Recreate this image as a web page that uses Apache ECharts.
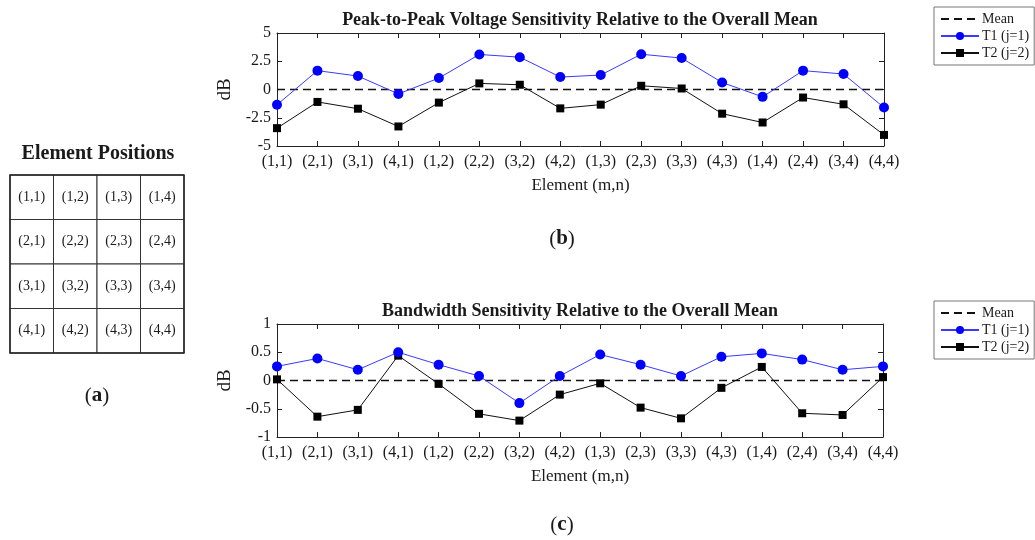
<!DOCTYPE html>
<html>
<head>
<meta charset="utf-8">
<script src="https://cdn.jsdelivr.net/npm/echarts@6/dist/echarts.min.js"></script>
<style>
  html, body { margin: 0; padding: 0; background: #fff; }
  #chart { width: 1035px; height: 540px; }
</style>
</head>
<body>
<div id="chart"></div>
<script>
// Element order along the horizontal axis (m,n)
const categories = ['(1,1)','(2,1)','(3,1)','(4,1)','(1,2)','(2,2)','(3,2)','(4,2)',
                    '(1,3)','(2,3)','(3,3)','(4,3)','(1,4)','(2,4)','(3,4)','(4,4)'];

// Peak-to-peak voltage sensitivity (dB)
const vppT1 = [-1.35, 1.67, 1.19, -0.39, 1.01, 3.10, 2.86, 1.10, 1.28, 3.12, 2.78, 0.62, -0.65, 1.67, 1.37, -1.60];
const vppT2 = [-3.42, -1.10, -1.70, -3.27, -1.16, 0.54, 0.42, -1.67, -1.34, 0.33, 0.09, -2.14, -2.92, -0.71, -1.31, -4.02];

// Bandwidth sensitivity (dB)
const bwT1 = [0.25, 0.39, 0.19, 0.50, 0.28, 0.08, -0.40, 0.08, 0.46, 0.28, 0.08, 0.42, 0.48, 0.37, 0.19, 0.25];
const bwT2 = [0.02, -0.64, -0.52, 0.44, -0.06, -0.59, -0.71, -0.25, -0.05, -0.48, -0.67, -0.13, 0.24, -0.58, -0.61, 0.06];

// Overall mean reference (0 dB)
const meanLine = [0, 0, 0, 0, 0, 0, 0, 0, 0, 0, 0, 0, 0, 0, 0, 0];

// Y tick settings
const vppTicks = { min: -5, max: 5, interval: 2.5 };
const bwTicks = { min: -1, max: 1, interval: 0.5 };

// Element position map: rows m, columns n
const tableRows = ['1', '2', '3', '4'];
const tableCols = ['1', '2', '3', '4'];

const FONT = "'Liberation Serif', 'Times New Roman', serif";
const TXT = '#1a1a1a';

const cells = [];
tableRows.forEach((m, ri) => {
  tableCols.forEach((n, ci) => {
    cells.push({ value: [ci, ri], name: '(' + m + ',' + n + ')' });
  });
});

function xAxesFor(gi) {
  return [
    {
      gridIndex: gi, type: 'category', data: categories, boundaryGap: false,
      axisLine: { onZero: false, lineStyle: { color: '#222', width: 1 } },
      axisTick: { inside: true, length: 5, interval: 0, lineStyle: { color: '#222' } },
      axisLabel: { interval: 0, margin: 8, fontFamily: FONT, fontSize: 16, color: TXT },
      name: 'Element (m,n)', nameLocation: 'middle', nameGap: 31,
      nameTextStyle: { fontFamily: FONT, fontSize: 17, color: TXT },
      splitLine: { show: false }
    },
    {
      gridIndex: gi, type: 'category', data: categories, boundaryGap: false, position: 'top',
      axisLine: { onZero: false, lineStyle: { color: '#222', width: 1 } },
      axisTick: { inside: true, length: 5, interval: 0, lineStyle: { color: '#222' } },
      axisLabel: { show: false }, splitLine: { show: false }
    }
  ];
}

function yAxesFor(gi, t) {
  return [
    {
      gridIndex: gi, type: 'value', min: t.min, max: t.max, interval: t.interval,
      axisLine: { show: true, onZero: false, lineStyle: { color: '#222', width: 1 } },
      axisTick: { show: true, inside: true, length: 5, lineStyle: { color: '#222' } },
      axisLabel: { margin: 6, fontFamily: FONT, fontSize: 16, color: TXT },
      name: 'dB', nameLocation: 'middle', nameGap: 32,
      nameTextStyle: { fontFamily: FONT, fontSize: 19, color: TXT },
      splitLine: { show: false }
    },
    {
      gridIndex: gi, type: 'value', min: t.min, max: t.max, interval: t.interval, position: 'right',
      axisLine: { show: true, onZero: false, lineStyle: { color: '#222', width: 1 } },
      axisTick: { show: true, inside: true, length: 5, lineStyle: { color: '#222' } },
      axisLabel: { show: false }, splitLine: { show: false }
    }
  ];
}

function seriesFor(xi, yi, t1, t2) {
  return [
    {
      name: 'Mean', type: 'line', xAxisIndex: xi, yAxisIndex: yi, data: meanLine,
      symbol: 'none', lineStyle: { color: '#111', width: 1.3, type: [8, 5] },
      itemStyle: { color: '#111' }, silent: true, z: 1
    },
    {
      name: 'T1 (j=1)', type: 'line', xAxisIndex: xi, yAxisIndex: yi, data: t1,
      symbol: 'circle', symbolSize: 10,
      lineStyle: { color: '#3a3aff', width: 1 }, itemStyle: { color: '#0000ff' }, z: 3
    },
    {
      name: 'T2 (j=2)', type: 'line', xAxisIndex: xi, yAxisIndex: yi, data: t2,
      symbol: 'rect', symbolSize: 8,
      lineStyle: { color: '#111', width: 1 }, itemStyle: { color: '#000' }, z: 2
    }
  ];
}

function legendAt(top) {
  return {
    orient: 'vertical', left: 934, top: top,
    padding: [5, 5, 5, 6], itemGap: 3, itemWidth: 38, itemHeight: 10,
    borderColor: '#777', borderWidth: 1, backgroundColor: '#fff',
    selectedMode: false,
    textStyle: { fontFamily: FONT, fontSize: 14, color: TXT, padding: [0, 0, 0, -2] },
    data: [
      { name: 'Mean', itemStyle: { opacity: 0 } },
      { name: 'T1 (j=1)' },
      { name: 'T2 (j=2)' }
    ]
  };
}

const chart = echarts.init(document.getElementById('chart'), null, { renderer: 'canvas' });

const captionRich = {
  p: { fontFamily: FONT, fontSize: 21, fill: TXT },
  b: { fontFamily: FONT, fontSize: 21, fontWeight: 'bold', fill: TXT }
};

chart.setOption({
  backgroundColor: '#fff',
  animation: false,
  grid: [
    { left: 277, top: 33, width: 607, height: 113 },
    { left: 277, top: 324, width: 606, height: 113 },
    { left: 10, top: 175, width: 174, height: 178, show: true, borderColor: '#222', borderWidth: 1.5, backgroundColor: 'transparent', z: 10 }
  ],
  xAxis: [
    ...xAxesFor(0), ...xAxesFor(1),
    { gridIndex: 2, type: 'category', data: tableCols, show: false }
  ],
  yAxis: [
    ...yAxesFor(0, vppTicks), ...yAxesFor(1, bwTicks),
    { gridIndex: 2, type: 'category', data: tableRows, inverse: true, show: false }
  ],
  legend: [legendAt(7), legendAt(301)],
  series: [
    ...seriesFor(0, 0, vppT1, vppT2),
    ...seriesFor(2, 2, bwT1, bwT2),
    {
      type: 'custom', xAxisIndex: 4, yAxisIndex: 4, data: cells, silent: true,
      renderItem: function (params, api) {
        const c = api.coord([api.value(0), api.value(1)]);
        const s = api.size([1, 1]);
        const name = cells[params.dataIndex].name;
        return {
          type: 'group',
          children: [
            { type: 'rect', shape: { x: c[0] - s[0] / 2, y: c[1] - s[1] / 2, width: s[0], height: s[1] },
              style: { fill: '#fff', stroke: '#333', lineWidth: 1 } },
            { type: 'text', x: c[0], y: c[1],
              style: { text: name, align: 'center', verticalAlign: 'middle', font: '14px ' + FONT, fill: TXT } }
          ]
        };
      }
    }
  ],
  graphic: [
    { type: 'text', x: 580, y: 20, style: { text: 'Peak-to-Peak Voltage Sensitivity Relative to the Overall Mean', align: 'center', verticalAlign: 'middle', font: 'bold 18px ' + FONT, fill: TXT } },
    { type: 'text', x: 580, y: 311, style: { text: 'Bandwidth Sensitivity Relative to the Overall Mean', align: 'center', verticalAlign: 'middle', font: 'bold 18px ' + FONT, fill: TXT } },
    { type: 'text', x: 98, y: 154, style: { text: 'Element Positions', align: 'center', verticalAlign: 'middle', font: 'bold 20px ' + FONT, fill: TXT } },
    { type: 'text', x: 97, y: 396, style: { text: '{p|(}{b|a}{p|)}', align: 'center', verticalAlign: 'middle', rich: captionRich } },
    { type: 'text', x: 562, y: 239, style: { text: '{p|(}{b|b}{p|)}', align: 'center', verticalAlign: 'middle', rich: captionRich } },
    { type: 'text', x: 562, y: 525, style: { text: '{p|(}{b|c}{p|)}', align: 'center', verticalAlign: 'middle', rich: captionRich } }
  ]
});
</script>
</body>
</html>
